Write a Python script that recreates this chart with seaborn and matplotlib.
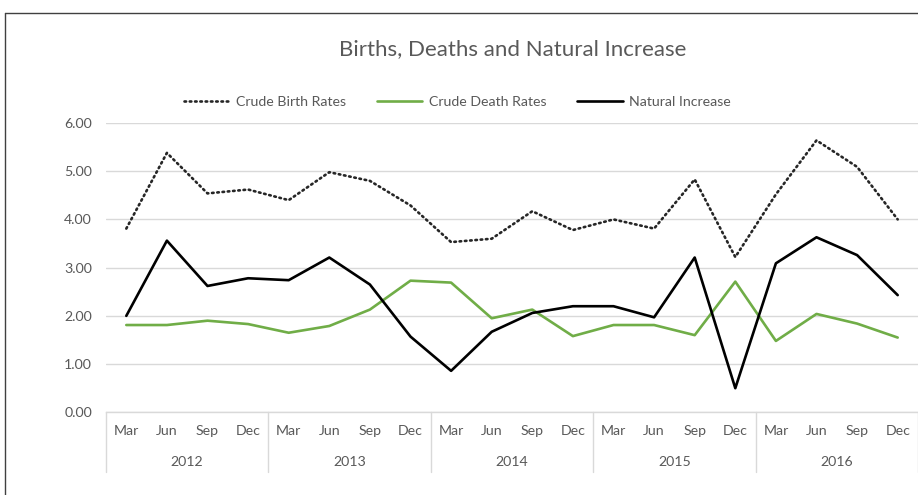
import numpy as np
import pandas as pd
import matplotlib.pyplot as plt
import seaborn as sns
from matplotlib.lines import Line2D
from matplotlib.transforms import blended_transform_factory

# Chart data
years = ["2012", "2013", "2014", "2015", "2016"]
months = ["Mar", "Jun", "Sep", "Dec"]
birth_rates = [3.81, 5.38, 4.54, 4.62, 4.40, 4.98, 4.80, 4.29, 3.53, 3.60,
               4.17, 3.78, 4.00, 3.81, 4.83, 3.22, 4.52, 5.64, 5.09, 4.00]
death_rates = [1.81, 1.81, 1.90, 1.83, 1.65, 1.79, 2.13, 2.73, 2.69, 1.95,
               2.13, 1.58, 1.81, 1.81, 1.60, 2.71, 1.48, 2.04, 1.84, 1.55]
natural_increase = [2.00, 3.56, 2.62, 2.78, 2.74, 3.21, 2.65, 1.57, 0.86, 1.67,
                    2.06, 2.20, 2.20, 1.97, 3.21, 0.50, 3.09, 3.63, 3.26, 2.43]
y_ticks = [0, 1, 2, 3, 4, 5, 6]

TEXT = "#595959"
GRID = "#D9D9D9"
FS = 10.2


def build_frame():
    labels = [m for _ in years for m in months]
    df = pd.DataFrame({
        "idx": np.arange(len(labels)),
        "label": labels,
        "birth": birth_rates,
        "death": death_rates,
        "natural": natural_increase,
    })
    return df


def draw_chart(df):
    sns.set_theme(style="white")
    plt.rcParams["font.family"] = ["Lato", "DejaVu Sans"]

    fig = plt.figure(figsize=(9.18, 4.95), dpi=100)
    ax = fig.add_axes([106 / 918, 1 - 412.3 / 495, 1 - 106 / 918, (412.3 - 123) / 495])

    sns.lineplot(data=df, x="idx", y="birth", ax=ax, color="#262626",
                 linestyle=(0, (0.6, 1.4)), linewidth=1.9, dash_capstyle="round",
                 label="Crude Birth Rates")
    sns.lineplot(data=df, x="idx", y="death", ax=ax, color="#70AD47",
                 linewidth=1.9, label="Crude Death Rates")
    sns.lineplot(data=df, x="idx", y="natural", ax=ax, color="#000000",
                 linewidth=1.9, label="Natural Increase")

    n = len(df)
    ax.set_xlim(-0.5, n - 0.5)
    ax.set_ylim(0, 6)
    ax.set_yticks(y_ticks)
    ax.set_yticklabels([f"{v:.2f}" for v in y_ticks], color=TEXT, fontsize=FS)
    ax.yaxis.grid(True, color=GRID, linewidth=1)
    ax.set_axisbelow(True)
    for s in ["top", "right", "left"]:
        ax.spines[s].set_visible(False)
    ax.spines["bottom"].set_color(GRID)
    ax.spines["bottom"].set_linewidth(1)
    ax.tick_params(axis="y", length=0, pad=10)
    ax.set_xlabel("")
    ax.set_ylabel("")

    ax.set_xticks(df["idx"])
    ax.set_xticklabels(df["label"], color=TEXT, fontsize=FS)
    ax.tick_params(axis="x", length=0, pad=9.5)

    # year groups under the months
    trans = blended_transform_factory(ax.transData, ax.transAxes)
    ax_h = 412.3 - 123
    sep_bottom = -60 / ax_h
    year_y = -50 / ax_h
    group = len(months)
    for i, yr in enumerate(years):
        start = i * group - 0.5
        ax.plot([start, start], [0, sep_bottom], color=GRID, linewidth=1,
                transform=trans, clip_on=False)
        ax.text(start + group / 2, year_y, yr, transform=trans, ha="center",
                va="center", color=TEXT, fontsize=FS)
    end = len(years) * group - 0.5
    ax.plot([end, end], [0, sep_bottom], color=GRID, linewidth=1,
            transform=trans, clip_on=False)

    ax.legend(loc="center", bbox_to_anchor=(457.5 / 918, 1 - 102 / 495),
              bbox_transform=fig.transFigure, ncol=3, frameon=False,
              fontsize=FS, labelcolor=TEXT, handlelength=3.2,
              handletextpad=0.45, columnspacing=2.2)

    fig.text(513 / 918, 1 - 49 / 495, "Births, Deaths and Natural Increase",
             ha="center", va="center", color=TEXT, fontsize=16)

    # chart border (top and left edges visible in the crop)
    fig.add_artist(Line2D([5 / 918, 1], [1 - 13 / 495, 1 - 13 / 495],
                          transform=fig.transFigure, color="#404040", linewidth=1))
    fig.add_artist(Line2D([5 / 918, 5 / 918], [0, 1 - 13 / 495],
                          transform=fig.transFigure, color="#404040", linewidth=1))

    fig.savefig("out.png", dpi=100, facecolor="white")


def main():
    df = build_frame()
    draw_chart(df)


if __name__ == "__main__":
    main()
